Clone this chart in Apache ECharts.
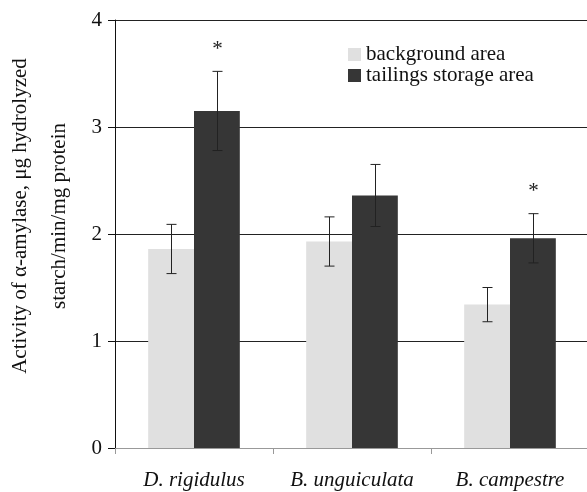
<!DOCTYPE html>
<html>
<head>
<meta charset="utf-8">
<script src="https://cdn.jsdelivr.net/npm/echarts@6/dist/echarts.min.js"></script>
<style>
    html, body { margin: 0; padding: 0; background: #fff; }
    #chart { width: 587px; height: 492px; }
</style>
</head>
<body>
<div id="chart"></div>
<script>
var species = ['D. rigidulus', 'B. unguiculata', 'B. campestre'];
var background = [1.86, 1.93, 1.34];
var backgroundErr = [0.23, 0.23, 0.16];
var tailings = [3.15, 2.36, 1.96];
var tailingsErr = [0.37, 0.29, 0.23];
var significant = [true, false, true];
var yTicks = [0, 1, 2, 3, 4];

var FONT = '"Liberation Serif", "Times New Roman", serif';
var GAP = 0.42;

function errorSeries(name, values, errors, side, marks) {
    var rows = values.map(function (v, i) { return [i, v, errors[i], marks ? (marks[i] ? 1 : 0) : 0]; });
    return {
        type: 'custom',
        name: name + ' err',
        data: rows,
        z: 5,
        renderItem: function (params, api) {
            var i = api.value(0), v = api.value(1), e = api.value(2);
            var catW = api.size([1, 0])[0];
            var barW = catW * (1 - GAP) / 2;
            var c = api.coord([i, v]);
            var x = Math.round(c[0] + side * barW / 2) + 0.5;
            var top = api.coord([i, v + e])[1];
            var bot = api.coord([i, v - e])[1];
            var st = { stroke: '#222', lineWidth: 1 };
            var kids = [
                { type: 'line', shape: { x1: x, y1: top, x2: x, y2: bot }, style: st },
                { type: 'line', shape: { x1: x - 5, y1: top, x2: x + 5, y2: top }, style: st },
                { type: 'line', shape: { x1: x - 5, y1: bot, x2: x + 5, y2: bot }, style: st }
            ];
            if (api.value(3)) {
                kids.push({
                    type: 'text',
                    style: { text: '*', x: x, y: top - 22, align: 'center', verticalAlign: 'middle',
                        font: '21px ' + FONT, fill: '#222' }
                });
            }
            return { type: 'group', children: kids };
        }
    };
}

var chart = echarts.init(document.getElementById('chart'));
var option = {
    animation: false,
    backgroundColor: '#fff',
    textStyle: { fontFamily: FONT },
    grid: { left: 115, top: 20, width: 474, height: 428, outerBoundsMode: 'none' },
    legend: {
        data: ['background area', 'tailings storage area'],
        orient: 'vertical',
        left: 343,
        top: 39,
        itemWidth: 13,
        itemHeight: 13,
        itemGap: 0,
        icon: 'rect',
        textStyle: { fontFamily: FONT, fontSize: 21, lineHeight: 21, color: '#111' }
    },
    xAxis: {
        type: 'category',
        data: species,
        axisLine: { lineStyle: { color: '#999', width: 1 } },
        axisTick: { show: true, length: 6, lineStyle: { color: '#999' } },
        axisLabel: { interval: 0, hideOverlap: false, fontFamily: FONT, fontStyle: 'italic', fontSize: 21, color: '#111', margin: 22 }
    },
    yAxis: {
        type: 'value',
        min: yTicks[0],
        max: yTicks[yTicks.length - 1],
        interval: 1,
        name: 'Activity of α-amylase, μg hydrolyzed\nstarch/min/mg protein',
        nameLocation: 'middle',
        nameRotate: 90,
        nameGap: 36,
        nameTextStyle: { fontFamily: FONT, fontSize: 21, lineHeight: 39, color: '#111', padding: [0, 0, 0, 36] },
        axisLine: { show: true, lineStyle: { color: '#111', width: 1 } },
        axisTick: { show: true, length: 7, lineStyle: { color: '#111' } },
        axisLabel: { fontFamily: FONT, fontSize: 21, color: '#111', margin: 13 },
        splitLine: { show: true, lineStyle: { color: '#222', width: 1 } }
    },
    series: [
        {
            name: 'background area',
            type: 'bar',
            data: background,
            barGap: 0,
            barCategoryGap: (GAP * 100) + '%',
            itemStyle: { color: '#e0e0e0' }
        },
        {
            name: 'tailings storage area',
            type: 'bar',
            data: tailings,
            barGap: 0,
            barCategoryGap: (GAP * 100) + '%',
            itemStyle: { color: '#363636' }
        },
        errorSeries('background area', background, backgroundErr, -1, null),
        errorSeries('tailings storage area', tailings, tailingsErr, 1, significant)
    ]
};
chart.setOption(option);
</script>
</body>
</html>
